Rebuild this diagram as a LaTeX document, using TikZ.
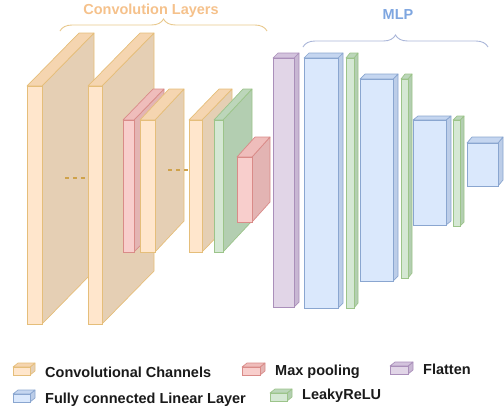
\documentclass[tikz,border=0pt]{standalone}
\usepackage{fontspec}
\setmainfont{Liberation Sans}
\usetikzlibrary{decorations.pathreplacing}
\definecolor{convfront}{HTML}{FFE6CC}\definecolor{convtop}{HTML}{F5D5B0}\definecolor{convside}{HTML}{E5CFB4}\definecolor{convline}{HTML}{E5BE7A}
\definecolor{poolfront}{HTML}{F8CECC}\definecolor{pooltop}{HTML}{EFBDBB}\definecolor{poolside}{HTML}{E3B4B3}\definecolor{poolline}{HTML}{D98B88}
\definecolor{relufront}{HTML}{D5E8D4}\definecolor{relutop}{HTML}{BCD6BA}\definecolor{reluside}{HTML}{B3CEB1}\definecolor{reluline}{HTML}{9CC48A}
\definecolor{flatfront}{HTML}{E1D5E7}\definecolor{flattop}{HTML}{D3C3DD}\definecolor{flatside}{HTML}{C8B7D3}\definecolor{flatline}{HTML}{AA8FBA}
\definecolor{fcfront}{HTML}{DAE8FC}\definecolor{fctop}{HTML}{C5D6F0}\definecolor{fcside}{HTML}{BCCDE8}\definecolor{fcline}{HTML}{8AA6D0}
\definecolor{convtitle}{HTML}{F5C18B}\definecolor{convbrace}{HTML}{E8C88C}
\definecolor{mlptitle}{HTML}{7EA6E0}\definecolor{mlpbrace}{HTML}{A9B5D8}
\definecolor{legtext}{HTML}{1A1A1A}
\definecolor{dotcol}{HTML}{CFA24A}
% #1 colour set, #2 x1, #3 y1, #4 x2, #5 y2, #6 dx, #7 dy
\newcommand\blk[7]{%
  \filldraw[draw=#1line, fill=#1side, line join=round, line width=0.7pt]
    (#4,#3) -- ++(#6,#7) -- ++(0,{#5-#3}) -- (#4,#5) -- cycle;
  \filldraw[draw=#1line, fill=#1top, line join=round, line width=0.7pt]
    (#2,#3) -- (#4,#3) -- ++(#6,#7) -- ++({#2-#4},0) -- cycle;
  \filldraw[draw=#1line, fill=#1front, line width=0.7pt] (#2,#3) rectangle (#4,#5);
}
\tikzset{
  title/.style={font=\fontsize{14.5}{17}\selectfont\bfseries},
  legend/.style={font=\fontsize{14.5}{17}\selectfont\bfseries, text=legtext, anchor=west, inner sep=0pt},
  bracestyle/.style={decorate, decoration={brace, amplitude=12pt}, line width=0.9pt},
  dots/.style={dotcol, line width=1.4pt, dash pattern=on 4pt off 4pt}
}
\begin{document}
\begin{tikzpicture}[x=1pt,y=-1pt]
\useasboundingbox (0,0) rectangle (504,410);
% convolution part
\blk{conv}{27}{86}{42}{324}{52}{-53}
\coordinate (d1a) at (65,178);
\coordinate (d1b) at (88,178);
\draw[dots] (d1a) -- (d1b);
\blk{conv}{88}{86}{102}{324}{52}{-53}
\blk{pool}{123}{120}{134}{252}{30}{-31}
\blk{conv}{140}{120}{155}{252}{29}{-31}
\coordinate (d2a) at (168,170);
\coordinate (d2b) at (189,170);
\draw[dots] (d2a) -- (d2b);
\blk{conv}{189}{120}{202}{252}{30}{-31}
\blk{relu}{214}{120}{223}{252}{29}{-31}
\blk{pool}{237}{157}{252}{222}{18}{-20}
% MLP part
\blk{flat}{273}{58}{294}{307}{5}{-5}
\blk{fc}{304}{58}{338}{308}{5}{-5}
\blk{relu}{346}{58}{354}{308}{4}{-5}
\blk{fc}{360}{79}{393}{281}{5}{-5}
\blk{relu}{401}{79}{408}{278}{4}{-5}
\blk{fc}{413}{120}{446}{225}{5}{-4}
\blk{relu}{453}{120}{460}{226}{4}{-4}
\blk{fc}{467}{143}{498}{186}{5}{-6}
% braces and titles
\coordinate (cb1) at (60,31);
\coordinate (cb2) at (267,31);
\draw[bracestyle, convbrace] (cb1) -- (cb2);
\node[title, text=convtitle] (convt) at (151,11) {Convolution Layers};
\coordinate (mb1) at (303,47);
\coordinate (mb2) at (488,47);
\draw[bracestyle, mlpbrace] (mb1) -- (mb2);
\node[title, text=mlptitle] (mlpt) at (398,15) {MLP};
% legend
\blk{conv}{13}{367}{30}{375}{5}{-4}
\node[legend] (l1) at (45,372) {Convolutional Channels};
\blk{pool}{242}{367}{260}{375}{5}{-4}
\node[legend] (l2) at (275,372) {Max pooling};
\blk{flat}{390}{366}{408}{374}{5}{-4}
\node[legend] (l3) at (423,369) {Flatten};
\blk{fc}{13}{394}{30}{402}{5}{-4}
\node[legend] (l4) at (45,400) {Fully connected Linear Layer};
\blk{relu}{270}{393}{287}{401}{5}{-4}
\node[legend] (l5) at (302,396) {LeakyReLU};
\end{tikzpicture}
\end{document}
